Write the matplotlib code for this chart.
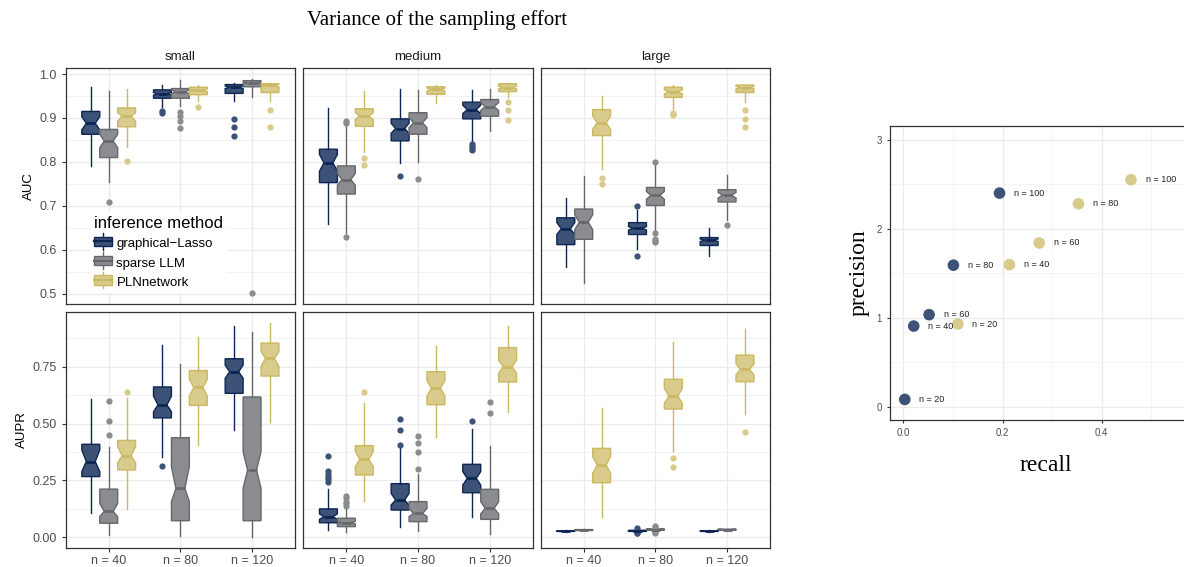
import matplotlib
matplotlib.use("Agg")
import matplotlib.pyplot as plt
from matplotlib.legend_handler import HandlerBase
from matplotlib.lines import Line2D
from matplotlib.patches import Rectangle, Patch
from matplotlib.ticker import MultipleLocator

plt.rcParams['font.family'] = ['Liberation Sans', 'DejaVu Sans']

sizes = ["small", "medium", "large"]
n_labels = ["n = 40", "n = 80", "n = 120"]
methods = ["graphical\u2212Lasso", "sparse LLM", "PLNnetwork"]
edge_cols = ["#0c2552", "#67686e", "#cbb862"]
fill_cols = ["#3d5277", "#8b8c90", "#d8cb8c"]

# box stats per row: whisker low, q1, notch low, median, notch high, q3, whisker high
# rows: n=40 (GL, LLM, PLN), n=80 (GL, LLM, PLN), n=120 (GL, LLM, PLN)
auc_small = [
    [0.791, 0.863, 0.873, 0.888, 0.903, 0.915, 0.970],
    [0.755, 0.810, 0.832, 0.848, 0.863, 0.874, 0.961],
    [0.833, 0.880, 0.893, 0.904, 0.912, 0.923, 0.967],
    [0.926, 0.945, 0.952, 0.955, 0.958, 0.964, 0.976],
    [0.927, 0.945, 0.955, 0.960, 0.964, 0.967, 0.986],
    [0.939, 0.953, 0.960, 0.963, 0.966, 0.970, 0.976],
    [0.938, 0.956, 0.967, 0.970, 0.973, 0.976, 0.980],
    [0.947, 0.971, 0.978, 0.980, 0.982, 0.985, 0.988],
    [0.939, 0.958, 0.971, 0.974, 0.977, 0.978, 0.979],
]
auc_small_out = [[], [0.709], [0.803], [0.916, 0.912], [0.914, 0.904, 0.893, 0.877],
                 [0.924], [0.898, 0.879, 0.860], [0.501], [0.919, 0.879]]

auc_medium = [
    [0.659, 0.753, 0.779, 0.798, 0.817, 0.829, 0.922],
    [0.638, 0.727, 0.747, 0.760, 0.774, 0.791, 0.882],
    [0.822, 0.881, 0.897, 0.904, 0.912, 0.921, 0.961],
    [0.798, 0.848, 0.865, 0.876, 0.888, 0.898, 0.967],
    [0.800, 0.863, 0.878, 0.889, 0.901, 0.912, 0.964],
    [0.933, 0.954, 0.961, 0.965, 0.968, 0.971, 0.976],
    [0.848, 0.898, 0.910, 0.919, 0.929, 0.936, 0.963],
    [0.870, 0.904, 0.917, 0.926, 0.935, 0.942, 0.967],
    [0.948, 0.960, 0.966, 0.969, 0.972, 0.978, 0.980],
]
auc_medium_out = [[], [0.894, 0.889, 0.630], [0.810, 0.793], [0.768], [0.762], [],
                  [0.841, 0.836, 0.832, 0.828], [], [0.937, 0.918, 0.895]]

auc_large = [
    [0.562, 0.612, 0.635, 0.648, 0.662, 0.673, 0.719],
    [0.524, 0.624, 0.646, 0.663, 0.680, 0.693, 0.769],
    [0.785, 0.860, 0.874, 0.889, 0.905, 0.919, 0.950],
    [0.602, 0.635, 0.645, 0.649, 0.653, 0.662, 0.690],
    [0.646, 0.701, 0.715, 0.724, 0.733, 0.742, 0.792],
    [0.920, 0.947, 0.955, 0.960, 0.964, 0.970, 0.976],
    [0.586, 0.610, 0.619, 0.622, 0.625, 0.628, 0.649],
    [0.669, 0.709, 0.718, 0.724, 0.731, 0.737, 0.770],
    [0.936, 0.958, 0.966, 0.969, 0.972, 0.975, 0.976],
]
auc_large_out = [[], [], [0.764, 0.751], [0.700, 0.586], [0.801, 0.639, 0.625, 0.620, 0.617],
                 [0.912, 0.908, 0.906], [], [0.657], [0.918, 0.897, 0.879]]

aupr_small = [
    [0.105, 0.267, 0.289, 0.333, 0.384, 0.409, 0.609],
    [0.010, 0.062, 0.091, 0.114, 0.149, 0.212, 0.396],
    [0.125, 0.296, 0.328, 0.358, 0.399, 0.426, 0.611],
    [0.355, 0.525, 0.552, 0.582, 0.621, 0.661, 0.844],
    [0.006, 0.073, 0.157, 0.215, 0.311, 0.438, 0.763],
    [0.404, 0.580, 0.621, 0.659, 0.695, 0.733, 0.879],
    [0.472, 0.633, 0.699, 0.728, 0.757, 0.785, 0.929],
    [0.000, 0.073, 0.215, 0.296, 0.376, 0.617, 0.904],
    [0.508, 0.709, 0.750, 0.787, 0.816, 0.854, 0.941],
]
aupr_small_out = [[], [0.601, 0.510, 0.451], [0.640], [0.315], [], [], [], [], []]

aupr_medium = [
    [0.031, 0.064, 0.079, 0.091, 0.103, 0.125, 0.211],
    [0.025, 0.047, 0.059, 0.064, 0.070, 0.084, 0.132],
    [0.158, 0.274, 0.311, 0.343, 0.377, 0.403, 0.592],
    [0.047, 0.120, 0.142, 0.164, 0.193, 0.236, 0.391],
    [0.029, 0.069, 0.091, 0.105, 0.127, 0.157, 0.278],
    [0.442, 0.583, 0.621, 0.655, 0.689, 0.728, 0.841],
    [0.091, 0.196, 0.230, 0.259, 0.289, 0.321, 0.475],
    [0.013, 0.079, 0.103, 0.127, 0.157, 0.211, 0.401],
    [0.552, 0.683, 0.721, 0.750, 0.779, 0.834, 0.930],
]
aupr_medium_out = [[0.359, 0.292, 0.278, 0.267, 0.255, 0.245], [0.182, 0.172, 0.157, 0.150, 0.138],
                   [0.640], [0.522, 0.470, 0.407], [0.447, 0.415, 0.375, 0.299], [],
                   [0.511], [0.593, 0.545], []]

aupr_large = [
    [0.024, 0.026, 0.0265, 0.027, 0.0275, 0.029, 0.031],
    [0.027, 0.030, 0.031, 0.032, 0.033, 0.034, 0.036],
    [0.091, 0.240, 0.281, 0.318, 0.355, 0.391, 0.567],
    [0.022, 0.026, 0.027, 0.028, 0.029, 0.031, 0.035],
    [0.028, 0.032, 0.033, 0.034, 0.035, 0.037, 0.042],
    [0.379, 0.564, 0.589, 0.621, 0.655, 0.695, 0.857],
    [0.024, 0.026, 0.0265, 0.027, 0.0275, 0.029, 0.031],
    [0.030, 0.032, 0.033, 0.034, 0.035, 0.036, 0.038],
    [0.541, 0.684, 0.714, 0.738, 0.762, 0.801, 0.914],
]
aupr_large_out = [[], [], [], [0.040, 0.020, 0.018], [0.050, 0.045, 0.022, 0.019],
                  [0.347, 0.309], [], [], [0.464]]

# right panel
gl_recall = [0.003, 0.021, 0.052, 0.101, 0.194]
gl_precision = [0.082, 0.906, 1.034, 1.590, 2.400]
pln_recall = [0.110, 0.214, 0.274, 0.353, 0.459]
pln_precision = [0.929, 1.596, 1.840, 2.280, 2.550]
pr_labels = ["n = 20", "n = 40", "n = 60", "n = 80", "n = 100"]

auc_data = [(auc_small, auc_small_out), (auc_medium, auc_medium_out), (auc_large, auc_large_out)]
aupr_data = [(aupr_small, aupr_small_out), (aupr_medium, aupr_medium_out), (aupr_large, aupr_large_out)]


class BoxKey(HandlerBase):
    def create_artists(self, legend, orig, xd, yd, w, h, fontsize, trans):
        fc, ec = orig.get_facecolor(), orig.get_edgecolor()
        wl = Line2D([w / 2, w / 2], [-0.2 * h, 1.2 * h], color=ec, lw=1, transform=trans)
        box = Rectangle((0, 0.1 * h), w, 0.8 * h, fc=fc, ec=ec, lw=1, transform=trans)
        med = Line2D([0, w], [h / 2, h / 2], color=ec, lw=1.6, transform=trans)
        return [wl, box, med]


def draw_boxes(ax, rows, outs):
    for m in range(3):
        stats = []
        pos = []
        for k in range(3):
            r = rows[3 * k + m]
            stats.append(dict(whislo=r[0], q1=r[1], cilo=r[2], med=r[3], cihi=r[4],
                              q3=r[5], whishi=r[6], fliers=outs[3 * k + m]))
            pos.append(k + 1 + (m - 1) * 0.25)
        ec, fc = edge_cols[m], fill_cols[m]
        ax.bxp(stats, positions=pos, widths=0.25, shownotches=True, patch_artist=True,
               showcaps=False, manage_ticks=False,
               boxprops=dict(facecolor=fc, edgecolor=ec, linewidth=1),
               whiskerprops=dict(color=ec, linewidth=1),
               medianprops=dict(color=ec, linewidth=2),
               flierprops=dict(marker='o', markerfacecolor=fill_cols[m], markeredgecolor='none',
                               markersize=4.5))


def style(ax):
    ax.set_xlim(0.4, 3.6)
    ax.set_axisbelow(True)
    ax.grid(True, which='major', color='#ebebeb', lw=1.0)
    ax.grid(True, which='minor', axis='y', color='#f0f0f0', lw=0.6)
    for s in ax.spines.values():
        s.set_color('#333333')
        s.set_linewidth(0.9)
    ax.tick_params(which='major', length=3, color='#333333', labelcolor='#4d4d4d', labelsize=9)
    ax.tick_params(which='minor', length=0)


fig = plt.figure(figsize=(11.84, 5.67), dpi=100)
lefts = [0.0555, 0.2562, 0.4567]
pw = 0.1937
top_axes = []
for j in range(3):
    ax = fig.add_axes([lefts[j], 0.4647, pw, 0.4148])
    rows, outs = auc_data[j]
    draw_boxes(ax, rows, outs)
    style(ax)
    ax.set_ylim(0.478, 1.013)
    ax.set_yticks([0.5, 0.6, 0.7, 0.8, 0.9, 1.0])
    ax.yaxis.set_minor_locator(MultipleLocator(0.05))
    ax.set_xticks([1, 2, 3])
    ax.tick_params(axis='x', length=0, labelbottom=False)
    if j > 0:
        ax.tick_params(axis='y', length=0, labelleft=False)
    else:
        ax.set_yticklabels(["0.5", "0.6", "0.7", "0.8", "0.9", "1.0"])
        ax.set_ylabel("AUC", fontsize=9.5, labelpad=3)
    ax.set_title(sizes[j], fontsize=9.5, color='#1a1a1a', pad=6)
    top_axes.append(ax)

for j in range(3):
    ax = fig.add_axes([lefts[j], 0.0340, pw, 0.4162])
    rows, outs = aupr_data[j]
    draw_boxes(ax, rows, outs)
    style(ax)
    ax.set_ylim(-0.0457, 0.9917)
    ax.set_yticks([0.0, 0.25, 0.5, 0.75])
    ax.yaxis.set_minor_locator(MultipleLocator(0.125))
    ax.set_xticks([1, 2, 3])
    ax.set_xticklabels(n_labels)
    ax.tick_params(axis='x', pad=2)
    if j > 0:
        ax.tick_params(axis='y', length=0, labelleft=False)
    else:
        ax.set_yticklabels(["0.00", "0.25", "0.50", "0.75"])
        ax.set_ylabel("AUPR", fontsize=9.5, labelpad=3)

handles = [Patch(facecolor=fill_cols[m], edgecolor=edge_cols[m]) for m in range(3)]
leg = top_axes[0].legend(handles, methods, handler_map={Patch: BoxKey()},
                         title="inference method", loc='upper left',
                         bbox_to_anchor=(0.08, 0.415), fontsize=9.5, title_fontsize=12,
                         frameon=True, framealpha=1, edgecolor='white', fancybox=False,
                         handlelength=1.35, handleheight=1.0, handletextpad=0.35,
                         labelspacing=0.45, borderpad=0.25, alignment='left')

fig.text(0.369, 0.965, "Variance of the sampling effort", family='Liberation Serif',
         fontsize=15, ha='center', va='center')

# precision / recall panel
ax = fig.add_axes([0.7517, 0.2593, 0.2626, 0.5185])
ax.set_xlim(-0.0268, 0.6)
ax.set_ylim(-0.149, 3.154)
ax.set_axisbelow(True)
ax.xaxis.set_major_locator(MultipleLocator(0.2))
ax.xaxis.set_minor_locator(MultipleLocator(0.1))
ax.yaxis.set_major_locator(MultipleLocator(1))
ax.yaxis.set_minor_locator(MultipleLocator(0.5))
ax.set_xticks([0.0, 0.2, 0.4])
ax.set_xticklabels(["0.0", "0.2", "0.4"])
ax.grid(True, which='major', color='#ebebeb', lw=1.0)
ax.grid(True, which='minor', color='#f2f2f2', lw=0.6)
for s in ax.spines.values():
    s.set_color('#333333')
    s.set_linewidth(0.9)
ax.tick_params(which='major', length=2.5, color='#333333', labelcolor='#4d4d4d', labelsize=7)
ax.tick_params(which='minor', length=0)
ax.scatter(gl_recall, gl_precision, s=70, color=fill_cols[0], edgecolor='none', zorder=3)
ax.scatter(pln_recall, pln_precision, s=70, color=fill_cols[2], edgecolor='none', zorder=3)
for x, y, t in zip(gl_recall, gl_precision, pr_labels):
    ax.annotate(t, (x, y), xytext=(10.5, 0), textcoords='offset points', va='center',
                ha='left', fontsize=6.5, color='#222222')
for x, y, t in zip(pln_recall, pln_precision, pr_labels):
    ax.annotate(t, (x, y), xytext=(10.5, 0), textcoords='offset points', va='center',
                ha='left', fontsize=6.5, color='#222222')
ax.set_xlabel("recall", family='Liberation Serif', fontsize=17, labelpad=12)
ax.set_ylabel("precision", family='Liberation Serif', fontsize=17, labelpad=5)

fig.savefig("out.png", dpi=100)
